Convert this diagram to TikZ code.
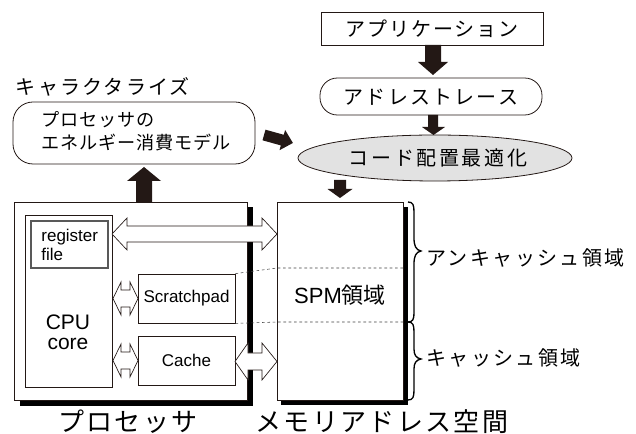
\documentclass[tikz,border=0pt]{standalone}
\usepackage{fontspec}
\setmainfont{Liberation Sans}
\newfontfamily\jp{Noto Sans CJK JP}
\newfontfamily\jpw{Noto Sans CJK JP}[LetterSpace=9]
\newfontfamily\jpm{Noto Sans CJK JP}[LetterSpace=5]
\usetikzlibrary{shapes.geometric}
\definecolor{ink}{HTML}{231815}
\definecolor{ellgray}{HTML}{E2E2E2}
\begin{document}
\begin{tikzpicture}[x=0.75pt,y=-0.75pt,line width=0.6pt,
  box/.style={draw=ink,fill=white,inner sep=0pt},
  lbl/.style={inner sep=0pt,font=\jpw\fontsize{15}{18}\selectfont},
  big/.style={inner sep=0pt,font=\jpw\fontsize{19.5}{22}\selectfont},
  latin/.style={inner sep=0pt,font=\fontsize{12.75}{14.25}\selectfont},
  dbl/.style={draw=ink,fill=white,line width=0.5pt,line join=miter},
  dashln/.style={draw=black!75,line width=0.4pt,dash pattern=on 2pt off 2pt},
  shadowbar/.style={fill=black,draw=none},
  brc/.style={draw=black,line width=1pt}]
\useasboundingbox (0,0) rectangle (636,434);

% top flow
\node[box,minimum width=166.5pt,minimum height=24.75pt] (app) at (432,28.5) {};
\node[lbl] at (app.center) {アプリケーション};
\node[box,rounded corners=13pt,minimum width=166.5pt,minimum height=27.75pt] (trace) at (431,96.5) {};
\node[lbl,font=\jp\fontsize{15}{18}\selectfont\addfontfeature{LetterSpace=11}] at (431,97) {アドレストレース};
\node[draw=ink,fill=ellgray,ellipse,inner sep=0pt,minimum width=205.5pt,minimum height=34.5pt] (opt) at (435,158) {};
\node[lbl,font=\jp\fontsize{15}{18}\selectfont\addfontfeature{LetterSpace=13}] at (438,158) {コード配置最適化};

% characterize
\node[lbl,font=\jp\fontsize{15}{18}\selectfont\addfontfeature{LetterSpace=11}] (chr) at (103,87) {キャラクタライズ};
\node[box,rounded corners=15pt,minimum width=181.5pt,minimum height=46.5pt] (model) at (134,133) {};
\node[inner sep=0pt,anchor=west,font=\jpm\fontsize{13.6}{17.25}\selectfont,align=left] (mtxt) at (41,131.5) {プロセッサの\\エネルギー消費モデル};

% shadows behind the boxes
\fill[shadowbar] (20,207) rectangle (253,406);
\fill[shadowbar] (281,207) rectangle (408,405);
% processor and memory
\node[box,minimum width=174.75pt,minimum height=148.5pt] (proc) at (130.5,301) {};
\node[box,minimum width=94.5pt,minimum height=148.5pt] (mem) at (340,301) {};

\node[box,minimum width=65.25pt,minimum height=129pt] (cpu) at (68.5,301) {};
\node[draw=black!65,fill=white,line width=1.2pt,inner sep=0pt,minimum width=57.75pt,minimum height=35.25pt] (reg) at (69.5,244.5) {};
\node[latin,anchor=west,align=left] at (41,245) {register\\file};
\node[inner sep=0pt,align=center,font=\fontsize{15.75}{15}\selectfont] at (68,332) {CPU\\core};
\node[box,minimum width=72.75pt,minimum height=36.75pt] (spad) at (186.5,298.5) {};
\node[latin] at (spad.center) {Scratchpad};
\node[box,minimum width=72.75pt,minimum height=36.75pt] (cache) at (186.5,360.5) {};
\node[latin] at (cache.center) {Cache};
\node[inner sep=0pt,font=\fontsize{16.5}{18}\selectfont] at (340,295) {SPM{\jp 領域}};

% dashed region lines
\draw[dashln] (spad.north east) -- (277,268) -- (403,268);
\draw[dashln] (spad.south east) -- (277,322) -- (403,322);

% double arrows
\draw[dbl] (112,234) -- (127,218) -- (127,226) -- (262,226) -- (262,218) -- (277,234)
  -- (262,250) -- (262,242) -- (127,242) -- (127,250) -- cycle;
\draw[dbl] (235,361.5) -- (248,343) -- (248,353) -- (262,353) -- (262,343) -- (277,361.5)
  -- (262,380) -- (262,370) -- (248,370) -- (248,380) -- cycle;
\foreach \yc in {298.5,360.5}{
\draw[dbl] (113,\yc) -- (121,\yc-16.5) -- (121,\yc-8.5) -- (130,\yc-8.5) -- (130,\yc-16.5) -- (138,\yc)
  -- (130,\yc+16.5) -- (130,\yc+8.5) -- (121,\yc+8.5) -- (121,\yc+16.5) -- cycle;
}

% black arrows
\fill[ink] (425,45) -- (441,45) -- (441,62) -- (448,62) -- (433,75) -- (418,62) -- (425,62) -- cycle;
\fill[ink] (428,115) -- (438,115) -- (438,127) -- (445,127) -- (433.5,135) -- (422,127) -- (428,127) -- cycle;
\fill[ink] (334,180) -- (346,180) -- (346,189) -- (352.5,189) -- (340,198) -- (327.5,189) -- (334,189) -- cycle;
\fill[ink] (136,202) -- (152,202) -- (152,181) -- (161,181) -- (144,167) -- (127,181) -- (136,181) -- cycle;
\fill[ink] (265.5,129.7) -- (283.8,134.8) -- (285.1,130.0) -- (292.9,143.0) -- (279.5,150.2) -- (280.8,145.4) -- (262.5,140.3) -- cycle;

% braces
\draw[brc] (408,202) .. controls (413,202) and (414,205) .. (414,212) -- (414,238)
  .. controls (414,246) and (416,250) .. (421,251)
  .. controls (416,252) and (414,256) .. (414,264) -- (414,313)
  .. controls (414,319) and (413,322) .. (408,322);
\draw[brc] (408,322) .. controls (413,322) and (414,325) .. (414,332) -- (414,349)
  .. controls (414,355) and (416,358) .. (421,359)
  .. controls (416,360) and (414,363) .. (414,369) -- (414,390)
  .. controls (414,397) and (413,400) .. (408,400);
\node[lbl,anchor=west,font=\jp\fontsize{15}{18}\selectfont\addfontfeature{LetterSpace=12}] (unc) at (426,258) {アンキャッシュ領域};
\node[lbl,anchor=west,font=\jp\fontsize{15}{18}\selectfont\addfontfeature{LetterSpace=12}] (cac) at (426,358) {キャッシュ領域};

% bottom captions
\node[big] (pl) at (128,421.5) {プロセッサ};
\node[big] (ml) at (382,421.5) {メモリアドレス空間};
\end{tikzpicture}
\end{document}
